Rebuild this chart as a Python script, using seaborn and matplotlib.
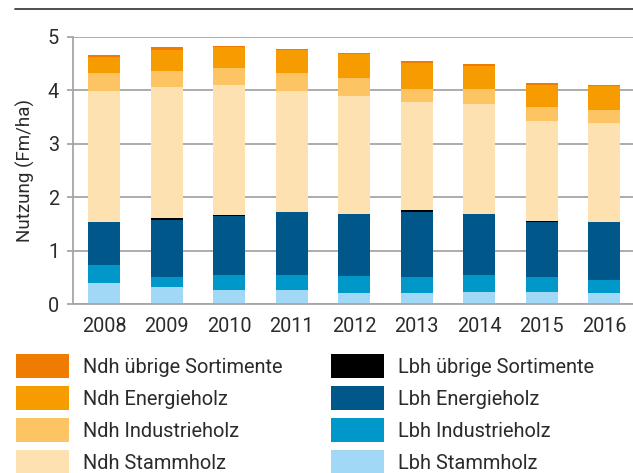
import numpy as np
import pandas as pd
import matplotlib
matplotlib.use("Agg")
import matplotlib.pyplot as plt
import seaborn as sns
from matplotlib.patches import Patch
from matplotlib.lines import Line2D

years = ["2008", "2009", "2010", "2011", "2012", "2013", "2014", "2015", "2016"]

# stacked from bottom to top
lbh_stamm = [0.39, 0.32, 0.26, 0.26, 0.21, 0.21, 0.22, 0.22, 0.21]
lbh_industrie = [0.34, 0.19, 0.28, 0.28, 0.32, 0.30, 0.32, 0.28, 0.24]
lbh_energie = [0.80, 1.07, 1.10, 1.18, 1.16, 1.22, 1.14, 1.03, 1.09]
lbh_uebrige = [0.0, 0.02, 0.02, 0.0, 0.0, 0.02, 0.0, 0.02, 0.0]
ndh_stamm = [2.45, 2.45, 2.43, 2.26, 2.21, 2.02, 2.06, 1.87, 1.85]
ndh_industrie = [0.34, 0.30, 0.32, 0.34, 0.32, 0.26, 0.28, 0.26, 0.24]
ndh_energie = [0.30, 0.41, 0.39, 0.43, 0.45, 0.47, 0.44, 0.41, 0.45]
ndh_uebrige = [0.04, 0.04, 0.02, 0.02, 0.02, 0.04, 0.02, 0.04, 0.02]

series = [
    ("Lbh Stammholz", lbh_stamm, "#A1D8F5"),
    ("Lbh Industrieholz", lbh_industrie, "#0098C8"),
    ("Lbh Energieholz", lbh_energie, "#00578A"),
    ("Lbh übrige Sortimente", lbh_uebrige, "#000000"),
    ("Ndh Stammholz", ndh_stamm, "#FDE1B1"),
    ("Ndh Industrieholz", ndh_industrie, "#FCC462"),
    ("Ndh Energieholz", ndh_energie, "#F69B00"),
    ("Ndh übrige Sortimente", ndh_uebrige, "#EF7B00"),
]

sns.set_theme(style="white")
plt.rcParams['font.family'] = ['Roboto', 'DejaVu Sans']
grey = "#A6A6A6"
txt = "#2b2b2b"

fig = plt.figure(figsize=(6.33, 4.73), dpi=100)
ax = fig.add_axes([73 / 633, 1 - 304 / 473, 1 - 73 / 633, (304 - 36.7) / 473])

bottom = np.zeros(len(years))
for name, vals, col in series:
    df = pd.DataFrame({"Jahr": years, "Wert": vals})
    sns.barplot(data=df, x="Jahr", y="Wert", order=years, color=col,
                width=0.51, bottom=bottom, ax=ax, linewidth=0, saturation=1)
    bottom = bottom + np.array(vals)

ax.set_ylim(0, 5)
ax.set_xlim(-0.5, 8.46)
ax.set_yticks([0, 1, 2, 3, 4, 5])
ax.yaxis.grid(True, color=grey, linewidth=1.3)
ax.set_axisbelow(True)
for s in ["top", "right"]:
    ax.spines[s].set_visible(False)
for s in ["left", "bottom"]:
    ax.spines[s].set_color(grey)
    ax.spines[s].set_linewidth(1.3)
ax.tick_params(axis="y", left=True, length=4, width=1.3, color=grey, pad=6,
               labelsize=14.3, labelcolor=txt)
ax.tick_params(axis="x", bottom=False, length=0, pad=9, labelsize=14.3,
               labelcolor=txt)
ax.set_xlabel("")
ax.set_ylabel("Nutzung (Fm/ha)", fontsize=13.5, color=txt, labelpad=9)

fig.add_artist(Line2D([15 / 633, 1], [1 - 9 / 473, 1 - 9 / 473],
                      transform=fig.transFigure, color="#404040", linewidth=1.3))

lookup = {n: c for n, v, c in series}
left_names = ["Ndh übrige Sortimente", "Ndh Energieholz", "Ndh Industrieholz", "Ndh Stammholz"]
right_names = ["Lbh übrige Sortimente", "Lbh Energieholz", "Lbh Industrieholz", "Lbh Stammholz"]
for names, x0 in [(left_names, 16 / 633), (right_names, 331 / 633)]:
    handles = [Patch(facecolor=lookup[n], edgecolor="none", label=n) for n in names]
    leg = fig.legend(handles=handles, loc="upper left", bbox_to_anchor=(x0, 1 - 354 / 473),
                     frameon=False, fontsize=14.4, handlelength=2.65, handleheight=1.47,
                     handletextpad=0.7, labelspacing=0.4, borderpad=0, borderaxespad=0)
    for t in leg.get_texts():
        t.set_color(txt)

fig.savefig("out.png", dpi=100)
